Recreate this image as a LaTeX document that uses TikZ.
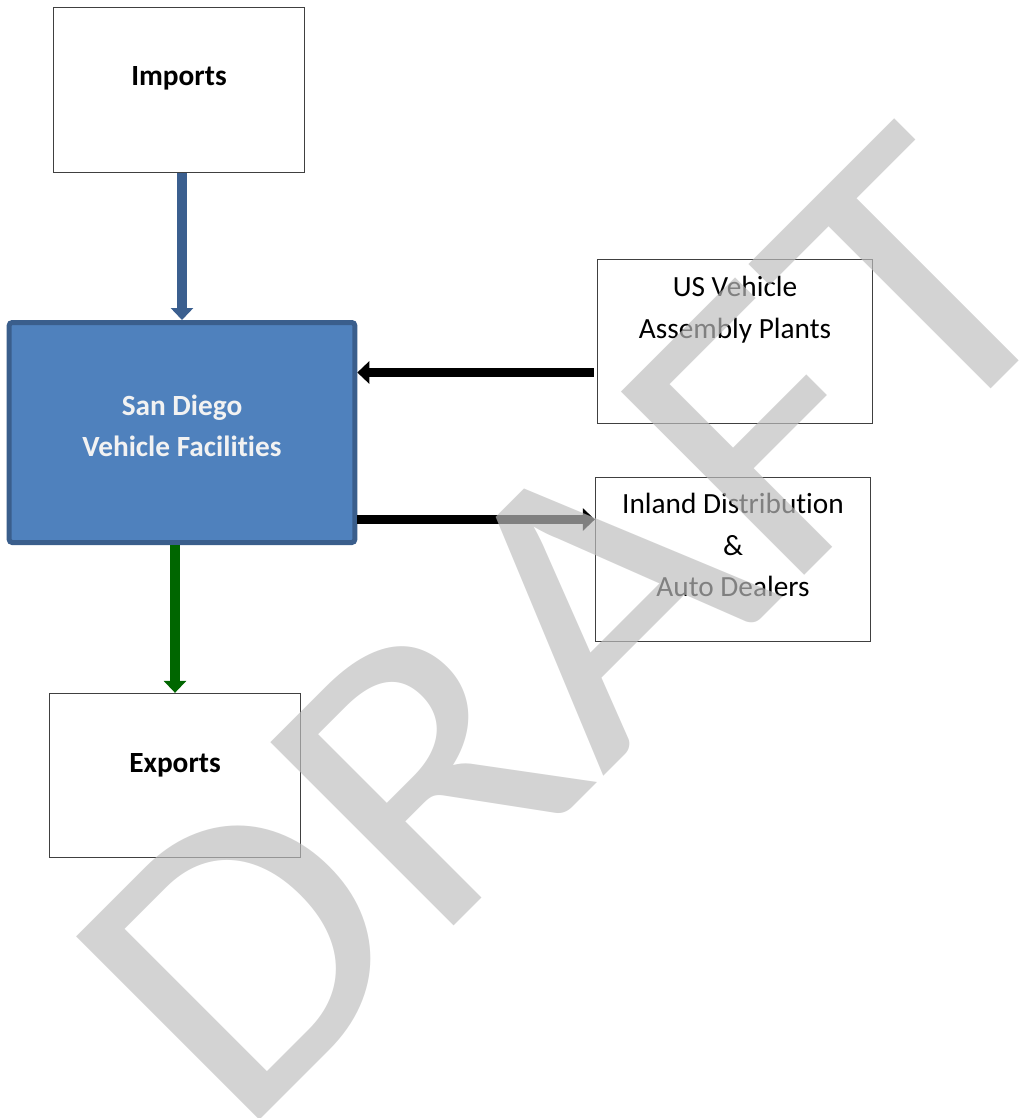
\documentclass[tikz,border=0pt]{standalone}
\usepackage{fontspec}
\setmainfont{Carlito}[Ligatures=NoCommon]
\usetikzlibrary{arrows.meta,calc}
\definecolor{sdfill}{HTML}{4F81BD}
\definecolor{sdline}{HTML}{3A5E8C}
\definecolor{bluearr}{HTML}{3B5F8F}
\definecolor{greenarr}{HTML}{006600}
\definecolor{boxline}{HTML}{404040}
\definecolor{wmark}{HTML}{BEBEBE}
\definecolor{sdtext}{HTML}{F2F2F2}
\begin{document}
\begin{tikzpicture}[x=1pt,y=-1pt,
  plainbox/.style={draw=boxline,line width=1.3pt,fill=white,inner sep=0pt},
  hubbox/.style={draw=sdline,line width=5pt,fill=sdfill,rounded corners=3pt,inner sep=0pt},
  boxtext/.style={inner sep=0pt,anchor=base,align=center,font=\fontsize{29.3}{41.4}\selectfont},
  boldtext/.style={boxtext,font=\fontsize{29.3}{41.4}\selectfont\bfseries},
  flow/.style={line width=9.6pt,-{Triangle[width=22pt,length=12pt]}},
  wm/.style={inner sep=0pt,text=wmark,text opacity=0.68,font=\fontsize{404}{404}\selectfont}]
\useasboundingbox (0,0) rectangle (1024,1118);

% boxes
\node[plainbox,minimum width=251pt,minimum height=165pt] (imp) at (179,90) {};
\node[hubbox,minimum width=345.6pt,minimum height=220pt] (sd) at (182,432.5) {};
\node[plainbox,minimum width=275pt,minimum height=164pt] (us) at (735,341.5) {};
\node[plainbox,minimum width=275pt,minimum height=164pt] (inl) at (733,559.5) {};
\node[plainbox,minimum width=251pt,minimum height=164pt] (exp) at (175,775.5) {};

% labels (base anchor sits on the last line)
\node[boldtext] (impT) at ($(imp.north)+(0,79)$) {Imports};
\node[boldtext,text=sdtext] (sdT) at ($(sd.north)+(0,136.7)$) {San Diego\\Vehicle Facilities};
\node[boxtext] (usT) at ($(us.north)+(0,79.4)$) {US Vehicle\\Assembly Plants};
\node[boxtext] (inlT) at ($(inl.north)+(0,119.8)$) {Inland Distribution\\\&\\Auto Dealers};
\node[boldtext] (expT) at ($(exp.north)+(0,79.5)$) {Exports};

% connectors
\draw[flow,bluearr] (sd.north |- imp.south) -- (sd.north);
\coordinate (inA) at ($(us.west)+(-3,31)$);
\draw[flow,black] (inA) -- (inA -| sd.east);
\coordinate (outA) at ($(sd.east)+(0,87)$);
\draw[flow,black] (outA) -- (outA -| inl.west);
\draw[flow,greenarr] (exp.north |- sd.south) -- (exp.north);

% watermark
\node[wm,rotate=45,xscale=1.1,anchor=base west] (draft) at (238,1142) {DRAFT};
\end{tikzpicture}
\end{document}
